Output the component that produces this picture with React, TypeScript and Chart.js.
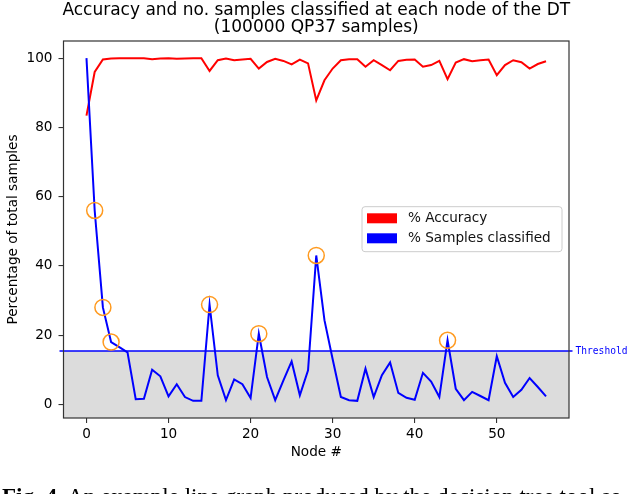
import React, { useEffect, useRef } from "react";
import { Chart, registerables } from "chart.js";

Chart.register(...registerables);

const accuracy = [
  83.4, 96.0, 99.6, 99.9, 100.0, 100.0, 100.0, 100.0, 99.7, 99.9,
  100.0, 99.8, 99.9, 100.0, 100.0, 96.3, 99.4, 99.9, 99.4, 99.6,
  99.8, 97.0, 98.9, 99.8, 99.2, 98.2, 99.6, 98.5, 87.8, 93.6,
  97.0, 99.4, 99.7, 99.7, 97.5, 99.4, 98.0, 96.5, 99.2, 99.5,
  99.6, 97.5, 98.0, 99.2, 93.9, 98.7, 99.7, 99.1, 99.4, 99.6,
  95.1, 98.0, 99.4, 98.8, 97.0, 98.3, 99.1,
];

const samples = [
  100, 56, 28, 18, 16.5, 15, 1.5, 1.6, 10, 8.1,
  2.3, 5.8, 2.1, 1.0, 1.0, 28.8, 8.4, 1.2, 7.2, 5.8,
  1.8, 20.4, 7.9, 1.2, 6.9, 12.4, 2.6, 9.8, 43.0, 24.3,
  13, 2.1, 1.2, 1.0, 10.3, 2.1, 8.4, 12.1, 3.3, 1.9,
  1.3, 9.1, 6.6, 2.1, 18.5, 4.5, 1.2, 3.6, 2.4, 1.2,
  13.9, 6.2, 2.1, 4.2, 7.6, 5.0, 2.3,
];

const highlightedNodes = [1, 2, 3, 15, 21, 28, 44];
const thresholdValue = 15.4;
const xTicks = [0, 10, 20, 30, 40, 50];
const yTicks = [0, 20, 40, 60, 80, 100];
const titleLines = [
  "Accuracy and no. samples classified at each node of the DT",
  "(100000 QP37 samples)",
];
const legendLabels = ["% Accuracy", "% Samples classified"];
const legendColors = ["#ff0000", "#0000ff"];

const FONT = '"DejaVu Sans", sans-serif';

const decorPlugin = {
  id: "decor",
  beforeDatasetsDraw(chart: any) {
    const { ctx, chartArea: a, scales } = chart;
    const ty = scales.y.getPixelForValue(thresholdValue);
    ctx.save();
    ctx.fillStyle = "#dcdcdc";
    ctx.fillRect(a.left, ty, a.right - a.left, a.bottom - ty);
    ctx.strokeStyle = "#0000ff";
    ctx.lineWidth = 1.3;
    ctx.beginPath();
    ctx.moveTo(a.left - 4, ty);
    ctx.lineTo(a.right + 3.5, ty);
    ctx.stroke();
    ctx.fillStyle = "#0000ff";
    ctx.font = '9.6px "DejaVu Sans Mono", monospace';
    ctx.textAlign = "left";
    ctx.textBaseline = "middle";
    ctx.fillText("Threshold", a.right + 6.5, ty);
    ctx.restore();
  },
  afterDraw(chart: any) {
    const { ctx, chartArea: a } = chart;
    ctx.save();
    // frame
    ctx.strokeStyle = "#333333";
    ctx.lineWidth = 1.2;
    ctx.strokeRect(a.left, a.top, a.right - a.left, a.bottom - a.top);
    // title
    ctx.fillStyle = "#000";
    ctx.font = `17px ${FONT}`;
    ctx.textAlign = "center";
    ctx.textBaseline = "middle";
    const cx = (a.left + a.right) / 2;
    ctx.fillText(titleLines[0], cx, 10.5);
    ctx.fillText(titleLines[1], cx, 28);
    // legend
    const w = 200;
    const h = 45;
    const x0 = a.right - 7 - w;
    const y0 = a.top + 165.7;
    const r = 3;
    ctx.beginPath();
    ctx.moveTo(x0 + r, y0);
    ctx.lineTo(x0 + w - r, y0);
    ctx.arcTo(x0 + w, y0, x0 + w, y0 + r, r);
    ctx.lineTo(x0 + w, y0 + h - r);
    ctx.arcTo(x0 + w, y0 + h, x0 + w - r, y0 + h, r);
    ctx.lineTo(x0 + r, y0 + h);
    ctx.arcTo(x0, y0 + h, x0, y0 + h - r, r);
    ctx.lineTo(x0, y0 + r);
    ctx.arcTo(x0, y0, x0 + r, y0, r);
    ctx.closePath();
    ctx.fillStyle = "rgba(255,255,255,0.8)";
    ctx.fill();
    ctx.strokeStyle = "#cccccc";
    ctx.lineWidth = 1;
    ctx.stroke();
    ctx.font = `13.6px ${FONT}`;
    ctx.textAlign = "left";
    ctx.textBaseline = "middle";
    legendLabels.forEach((label, i) => {
      const py = y0 + 6.6 + i * 20;
      ctx.fillStyle = legendColors[i];
      ctx.fillRect(x0 + 5, py, 30, 10);
      ctx.fillStyle = "#111";
      ctx.fillText(label, x0 + 46, py + 5);
    });
    ctx.restore();
  },
};

export default function App() {
  const canvasRef = useRef<HTMLCanvasElement | null>(null);

  useEffect(() => {
    const canvas = canvasRef.current;
    if (!canvas) return;
    const chart = new Chart(canvas, {
      type: "line",
      data: {
        datasets: [
          {
            label: "circles",
            data: highlightedNodes.map((n) => ({ x: n, y: samples[n] })),
            showLine: false,
            pointRadius: 8,
            pointBorderWidth: 1.5,
            pointBorderColor: "#ff9a1f",
            pointBackgroundColor: "rgba(0,0,0,0)",
            order: 0,
          },
          {
            label: "% Samples classified",
            data: samples.map((v, i) => ({ x: i, y: v })),
            borderColor: "#0000ff",
            borderWidth: 2,
            pointRadius: 0,
            order: 1,
          },
          {
            label: "% Accuracy",
            data: accuracy.map((v, i) => ({ x: i, y: v })),
            borderColor: "#ff0000",
            borderWidth: 2,
            pointRadius: 0,
            order: 2,
          },
        ],
      },
      options: {
        responsive: false,
        animation: false,
        events: [],
        layout: { padding: { left: 0, right: 71, top: 41, bottom: 29 } },
        plugins: {
          legend: { display: false },
          tooltip: { enabled: false },
          title: { display: false },
        },
        scales: {
          x: {
            type: "linear",
            min: -2.8,
            max: 58.8,
            afterBuildTicks: (s: any) => {
              s.ticks = xTicks.map((v) => ({ value: v }));
            },
            afterFit: (s: any) => {
              s.height = 47;
            },
            grid: {
              drawOnChartArea: false,
              drawTicks: true,
              tickLength: 5,
              color: "#333333",
              lineWidth: 1.1,
            },
            border: { display: false },
            ticks: {
              color: "#000",
              padding: 3,
              maxRotation: 0,
              font: { family: FONT, size: 13.6 },
            },
            title: {
              display: true,
              text: "Node #",
              color: "#000",
              padding: { top: 4, bottom: 4 },
              font: { family: FONT, size: 13.6 },
            },
          },
          y: {
            type: "linear",
            min: -3.95,
            max: 104.95,
            afterBuildTicks: (s: any) => {
              s.ticks = yTicks.map((v) => ({ value: v }));
            },
            afterFit: (s: any) => {
              s.width = 63.5;
            },
            grid: {
              drawOnChartArea: false,
              drawTicks: true,
              tickLength: 5,
              color: "#333333",
              lineWidth: 1.1,
            },
            border: { display: false },
            ticks: {
              color: "#000",
              padding: 6,
              font: { family: FONT, size: 13.6 },
            },
            title: {
              display: true,
              text: "Percentage of total samples",
              color: "#000",
              padding: { top: 5, bottom: 5 },
              font: { family: FONT, size: 13.6 },
            },
          },
        },
      },
      plugins: [decorPlugin],
    });
    return () => chart.destroy();
  }, []);

  return (
    <div
      style={{
        position: "absolute",
        left: 0,
        top: 0,
        width: 640,
        height: 494,
        overflow: "hidden",
        background: "#fff",
      }}
    >
      <canvas
        ref={canvasRef}
        width={640}
        height={494}
        style={{ display: "block", position: "absolute", left: 0, top: 0 }}
      />
      <div
        style={{
          position: "absolute",
          left: 2,
          top: 485,
          whiteSpace: "nowrap",
          fontFamily: '"Liberation Serif", serif',
          fontSize: 23,
          lineHeight: "23px",
          color: "#000",
        }}
      >
        <b>Fig. 4.</b> An example line graph produced by the decision tree tool as
      </div>
    </div>
  );
}
